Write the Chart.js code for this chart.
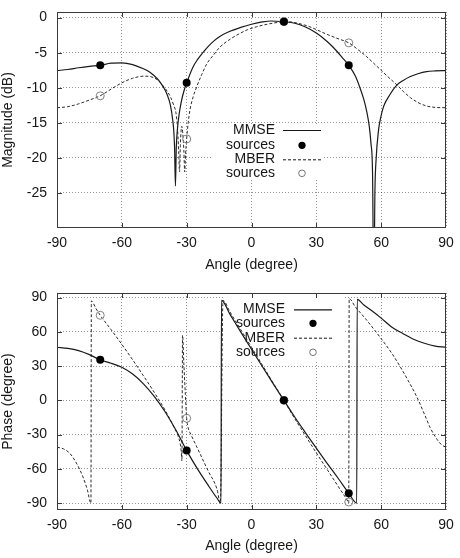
<!DOCTYPE html>
<html>
<head>
<meta charset="utf-8">
<script src="https://cdn.jsdelivr.net/npm/chart.js@4.4.1/dist/chart.umd.min.js"></script>
<style>
  html, body { margin: 0; padding: 0; background: #fff; }
  #wrap { position: relative; width: 460px; height: 558px; }
  canvas { position: absolute; left: 0; }
  #magChart { top: 0; }
  #phaseChart { top: 280px; }
</style>
</head>
<body>
<div id="wrap">
  <canvas id="magChart" width="460" height="280"></canvas>
  <canvas id="phaseChart" width="460" height="278"></canvas>
</div>
<script>
// tick labels
const angleTicks = [-90, -60, -30, 0, 30, 60, 90];
const magTicks = [0, -5, -10, -15, -20, -25];
const phaseTicks = [90, 60, 30, 0, -30, -60, -90];
const keyLabels = ["MMSE", "sources", "MBER", "sources"];

// source directions and their responses
const sourceAngles = [-70, -30, 15, 45];
const mmseSourceMag = [-6.8, -9.3, -0.6, -6.8];
const mberSourceMag = [-11.15, -17.3, -0.55, -3.6];
const mmseSourcePhase = [35.5, -44, 0, -81.3];
const mberSourcePhase = [74.5, -15.7, 0, -89];

// magnitude (dB)
const mmseMagAngle = [-90, -85, -80, -75, -70, -65, -60, -55, -50, -47, -45, -43, -41, -39, -37.5, -36.5, -36, -35.6, -35.2, -34.8,
  -34.3, -33.5, -32.5, -31.3, -30, -27, -25, -22.5, -20, -17.5, -15, -10, -5, 0, 5, 9, 15, 20, 25, 30,
  35, 38, 42, 45, 48, 50.3, 52, 53.4, 54.5, 55.3, 56, 56.6, 57.1, 57.7, 58.8, 59.6, 61.1, 64, 67.3, 70,
  73.5, 77, 81, 85, 90];
const mmseMag = [-7.55, -7.4, -7.15, -6.95, -6.8, -6.5, -6.45, -6.7, -7.3, -7.8, -8.3, -8.9, -9.8, -11.0, -12.5, -14.5, -16, -18.5, -24, -18.5,
  -16, -13.8, -12, -10.5, -9.3, -7.0, -6.0, -5.0, -4.1, -3.35, -2.75, -1.95, -1.4, -0.95, -0.62, -0.48, -0.6, -0.8, -1.35, -2.2,
  -3.4, -4.3, -5.7, -6.8, -8.3, -10.1, -11.7, -13.5, -15.5, -18, -22, -40, -25, -20, -16, -14.5, -12.7, -11, -9.6, -9,
  -8.4, -8.0, -7.7, -7.6, -7.55];

const mberMagAngle = [-90, -85, -80, -75, -70, -65, -60, -55, -50, -47, -45, -43, -41, -39, -37.5, -36, -35, -34.3, -33.7, -33.3,
  -32.9, -32.3, -31.8, -31.3, -30.9, -30.5, -30, -29.3, -28.5, -27, -25.4, -23, -20.7, -17.5, -14.6, -10, -6.8, -2, 2.4, 8,
  13.3, 17, 22, 26, 30.3, 35, 40, 45, 49, 53.4, 56.5, 59.6, 63, 67.3, 70.5, 73.5, 77, 81, 85, 90];
const mberMag = [-12.85, -12.7, -12.3, -11.75, -11.15, -10.2, -9.3, -8.65, -8.35, -8.4, -8.6, -9.0, -9.7, -10.5, -11.3, -12.5, -13.5, -15.5, -19, -22,
  -18, -15.5, -16.5, -19, -22, -19.5, -17.3, -15, -13.2, -11.3, -9.9, -8.1, -6.6, -5.3, -4.2, -3.1, -2.5, -1.75, -1.3, -0.9,
  -0.65, -0.6, -0.85, -1.2, -1.75, -2.4, -3.0, -3.6, -4.5, -5.6, -6.5, -7.4, -8.4, -9.6, -10.6, -11.4, -12.1, -12.6, -12.8, -12.85];

// phase (degree)
const mmsePhaseAngle = [-90, -85, -80, -75, -70, -65, -60, -55, -50, -45, -40, -35, -30, -25, -20, -16, -14.1, -13.9, -10, -5,
  0, 5, 10, 15, 20, 25, 30, 35, 40, 45, 48.7, 48.9, 52, 56, 60, 65, 70, 75, 80, 85, 90];
const mmsePhase = [46.5, 45.5, 43.5, 40, 35.5, 32.5, 29, 23, 14.5, 3.5, -10, -26, -44, -60, -74.5, -85.5, -90, 87.5, 75.5, 60,
  44.7, 29.6, 14.7, 0, -14.6, -28.4, -41.9, -55.2, -68, -81.3, -90, 88.5, 83.5, 78, 72, 64, 58.5, 53.5, 50, 47.5, 46.5];

const mberPhaseAngle = [-90, -87, -84, -81, -78, -76, -74.3, -74.1, -72, -70, -65, -60, -55, -50, -45, -40, -36, -34, -33, -32.5,
  -32.2, -31.9, -31.3, -30.6, -30, -29.3, -28, -25, -20, -16, -14.4, -13.2, -10, -5, 0, 5, 10, 15, 20, 25,
  30, 35, 40, 44.6, 45, 45.2, 48, 53.4, 60, 65, 68.8, 72, 76.5, 80, 82.7, 85.8, 88, 90];
const mberPhase = [-41, -42.5, -46.5, -55, -67, -78, -90, 87, 80.5, 74.5, 62, 49, 35.5, 21.5, 7, -8.5, -23, -31, -38, -45,
  -53, 57, 32, 5, -15.7, -24, -30, -42, -62, -77.5, -90, 87.6, 77.5, 62, 46.5, 31, 15.3, 0, -16, -31,
  -46, -60.5, -75, -88.5, -90, 89, 82, 70, 54, 41, 29.5, 19, 3, -12, -24, -34, -39, -41];

const FONT = { family: '"Liberation Sans", Arial, Helvetica, sans-serif', size: 14 };
const INK = '#161616';
const GRID = 'rgba(0,0,0,0.42)';
const NONE = 'rgba(0,0,0,0)';

function pairs(xs, ys) {
  return xs.map((x, i) => ({ x: x, y: ys[i] }));
}

// white key box under the curves, gnuplot style
const keyPlugin = {
  id: 'key',
  beforeDatasetsDraw(chart, args, o) {
    const ctx = chart.ctx;
    ctx.save();
    ctx.fillStyle = '#fff';
    ctx.fillRect(o.box[0], o.box[1], o.box[2] - o.box[0], o.box[3] - o.box[1]);
    ctx.font = FONT.size + 'px ' + FONT.family;
    ctx.textAlign = 'right';
    ctx.textBaseline = 'middle';
    keyLabels.forEach((t, i) => {
      const yy = o.rows[i];
      ctx.fillStyle = INK;
      ctx.fillText(t, o.textRight, yy);
      ctx.strokeStyle = INK;
      if (i === 0 || i === 2) {
        ctx.lineWidth = i === 0 ? 1.2 : 1;
        ctx.setLineDash(i === 0 ? [] : [3, 2]);
        ctx.beginPath();
        ctx.moveTo(o.lineFrom, yy + 0.5);
        ctx.lineTo(o.lineTo, yy + 0.5);
        ctx.stroke();
        ctx.setLineDash([]);
      } else {
        const cx = (o.lineFrom + o.lineTo) / 2;
        ctx.beginPath();
        ctx.arc(cx, yy, i === 1 ? 3.6 : 3.3, 0, Math.PI * 2);
        if (i === 1) { ctx.fillStyle = '#000'; ctx.fill(); }
        else { ctx.lineWidth = 1; ctx.strokeStyle = '#777'; ctx.stroke(); }
      }
    });
    ctx.restore();
  }
};

// solid frame with small inward ticks on all four sides
const framePlugin = {
  id: 'frame',
  afterDraw(chart) {
    const { ctx, chartArea: a, scales } = chart;
    ctx.save();
    ctx.strokeStyle = '#3a3a3a';
    ctx.lineWidth = 1;
    ctx.strokeRect(a.left + 0.5, a.top + 0.5, a.right - a.left - 1, a.bottom - a.top - 1);
    ctx.beginPath();
    scales.x.ticks.forEach(t => {
      const px = Math.round(scales.x.getPixelForValue(t.value)) + 0.5;
      if (px < a.left + 2 || px > a.right - 2) return;
      ctx.moveTo(px, a.bottom); ctx.lineTo(px, a.bottom - 5);
      ctx.moveTo(px, a.top); ctx.lineTo(px, a.top + 5);
    });
    scales.y.ticks.forEach(t => {
      const py = Math.round(scales.y.getPixelForValue(t.value)) + 0.5;
      ctx.moveTo(a.left, py); ctx.lineTo(a.left + 5, py);
      ctx.moveTo(a.right, py); ctx.lineTo(a.right - 5, py);
    });
    ctx.stroke();
    ctx.restore();
  }
};

function makeChart(id, cfg) {
  const datasets = [
    { data: pairs(sourceAngles, cfg.mmseSrc), pointRadius: 4, pointBackgroundColor: '#000', pointBorderColor: '#000',
      pointBorderWidth: 0, showLine: false, order: 0 },
    { data: pairs(sourceAngles, cfg.mberSrc), pointRadius: 4, pointBackgroundColor: NONE,
      pointBorderColor: '#808080', pointBorderWidth: 1, showLine: false, order: 1 },
    { data: pairs(cfg.mmseX, cfg.mmseY), showLine: true, pointRadius: 0, borderColor: '#1a1a1a', borderWidth: 1.2,
      cubicInterpolationMode: 'monotone', clip: 0, order: 2 },
    { data: pairs(cfg.mberX, cfg.mberY), showLine: true, pointRadius: 0, borderColor: '#2a2a2a', borderWidth: 1,
      borderDash: [3, 2], cubicInterpolationMode: 'monotone', clip: 0, order: 3 }
  ];
  return new Chart(document.getElementById(id), {
    type: 'scatter',
    data: { datasets: datasets },
    plugins: [keyPlugin, framePlugin],
    options: {
      responsive: false,
      animation: false,
      devicePixelRatio: 1,
      layout: { padding: { left: 0, right: 14, top: cfg.padTop, bottom: 0 } },
      plugins: {
        legend: { display: false },
        tooltip: { enabled: false },
        key: cfg.key
      },
      scales: {
        x: {
          type: 'linear', min: -90, max: 90,
          afterBuildTicks: s => { s.ticks = angleTicks.map(v => ({ value: v })); },
          afterFit: s => { s.height = cfg.xHeight; },
          // invisible tick marks only push the labels off the frame
          grid: { color: GRID, lineWidth: 1, drawTicks: true, tickLength: 7, tickColor: NONE },
          border: { display: false, dash: [1, 2] },
          ticks: { padding: 0, font: FONT, color: INK, maxRotation: 0 },
          title: { display: true, text: 'Angle (degree)', font: FONT, color: INK, padding: { top: 0, bottom: cfg.xTitlePad } }
        },
        y: {
          type: 'linear', min: cfg.yMin, max: cfg.yMax,
          afterBuildTicks: s => { s.ticks = cfg.yTicks.map(v => ({ value: v })); },
          afterFit: s => { s.width = 57; },
          grid: { color: GRID, lineWidth: 1, drawTicks: true, tickLength: 10, tickColor: NONE },
          border: { display: false, dash: [1, 2] },
          ticks: { padding: 0, font: FONT, color: INK },
          title: { display: true, text: cfg.yTitle, font: FONT, color: INK, padding: { top: 0, bottom: 0 } }
        }
      }
    }
  });
}

makeChart('magChart', {
  mmseSrc: mmseSourceMag, mberSrc: mberSourceMag,
  mmseX: mmseMagAngle, mmseY: mmseMag, mberX: mberMagAngle, mberY: mberMag,
  yMin: -30, yMax: 0.8, yTicks: magTicks, yTitle: 'Magnitude (dB)',
  padTop: 12, xHeight: 52, xTitlePad: 6,
  key: { box: [213, 125, 324, 178], rows: [130, 145.3, 159.3, 173.3], textRight: 275, lineFrom: 283, lineTo: 321 }
});

makeChart('phaseChart', {
  mmseSrc: mmseSourcePhase, mberSrc: mberSourcePhase,
  mmseX: mmsePhaseAngle, mmseY: mmsePhase, mberX: mberPhaseAngle, mberY: mberPhase,
  yMin: -96, yMax: 94, yTicks: phaseTicks, yTitle: 'Phase (degree)',
  padTop: 13, xHeight: 48, xTitlePad: 3,
  key: { box: [223, 15, 343, 80], rows: [29.3, 43.3, 57.7, 72.3], textRight: 285, lineFrom: 294, lineTo: 332 }
});
</script>
</body>
</html>
